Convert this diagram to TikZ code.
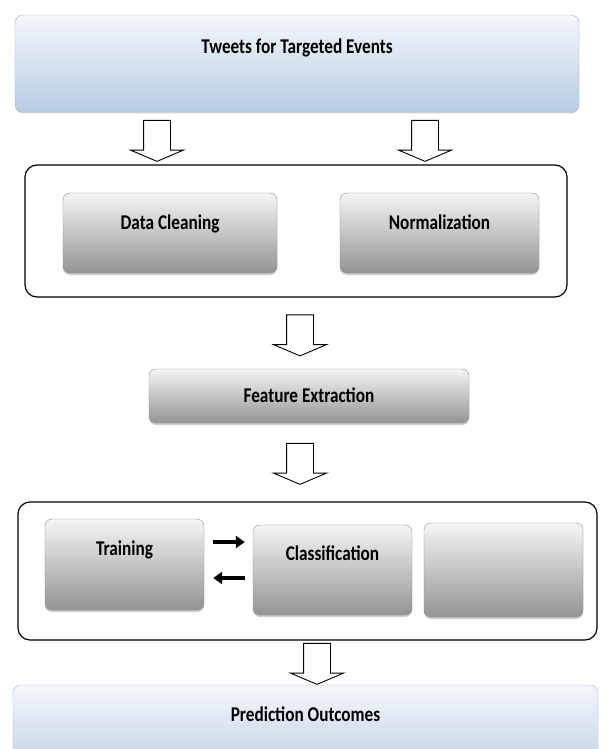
\documentclass[tikz,border=0pt]{standalone}
\usepackage{fontspec}
\setmainfont{Carlito}[FakeStretch=0.82]
\usetikzlibrary{shapes.arrows,arrows.meta,shadows}
\definecolor{paleblue}{HTML}{F4F7FB}
\definecolor{lightblue}{HTML}{B8CCE4}
\definecolor{blueline}{HTML}{A3B6CF}

\begin{document}
\begin{tikzpicture}[x=1pt,y=-1pt,
        every node/.style={font=\bfseries\fontsize{21}{24}\selectfont,inner sep=0pt},
        bluebox/.style={draw=blueline,rounded corners=8pt,top color=paleblue,bottom color=lightblue,
            drop shadow={shadow xshift=0pt,shadow yshift=-1.5pt,opacity=.35}},
        greybox/.style={draw=black!45,rounded corners=7pt,top color=black!4,bottom color=black!42,
            minimum width=159pt,drop shadow={shadow xshift=0pt,shadow yshift=-2pt,opacity=.4}},
        groupbox/.style={draw,line width=1.2pt,rounded corners=12pt,fill=white},
        blockarrow/.style={single arrow,draw,line width=.9pt,fill=white,rotate=-90,inner ysep=13pt,
            minimum height=41pt,minimum width=52pt,single arrow head extend=13pt,single arrow tip angle=134},
        fatarrow/.style={line width=3.2pt,-{Triangle[length=9pt,width=12pt]}}]
    \useasboundingbox (0,0) rectangle (606,749);
    \node[bluebox,minimum width=564pt,text height=38.5pt,text depth=58.5pt] (tweets) at (297,63.5) {Tweets for Targeted Events};
    \node[groupbox,minimum width=542pt,minimum height=132pt] (prep) at (296,231) {};
    \node[greybox,minimum width=214pt,text height=36.5pt,text depth=43.5pt] (clean) at (170,233) {Data Cleaning};
    \node[greybox,minimum width=199pt,text height=36.5pt,text depth=43.5pt] (norm) at (439.5,233) {Normalization};
    \node[greybox,minimum width=320pt,text height=33.5pt,text depth=20.5pt] (feat) at (309,396) {Feature Extraction};
    \node[groupbox,minimum width=579pt,minimum height=138pt] (model) at (307.5,571) {};
    \node[greybox,text height=36.5pt,text depth=54.5pt] (train) at (124.5,564.5) {Training};
    \node[greybox,text height=35.5pt,text depth=54.5pt] (classif) at (332.5,570) {Classification};
    \node[greybox,minimum height=94pt] (spare) at (503.5,570) {};
    \node[bluebox,minimum width=585pt,text height=36.75pt,text depth=60.25pt] (pred) at (305.5,733.5) {Prediction Outcomes};
    \node[blockarrow] (a1) at (157,138) {};
    \node[blockarrow] (a2) at (425,138) {};
    \node[blockarrow] (a3) at (300,332.5) {};
    \node[blockarrow] (a4) at (300,461) {};
    \node[blockarrow] (a5) at (317,661) {};
    \draw[fatarrow,shorten <=9pt,shorten >=8pt] (train.east |- 0,542) -- (classif.west |- 0,542);
    \draw[fatarrow,shorten <=8pt,shorten >=9pt] (classif.west |- 0,578) -- (train.east |- 0,578);
\end{tikzpicture}
\end{document}
